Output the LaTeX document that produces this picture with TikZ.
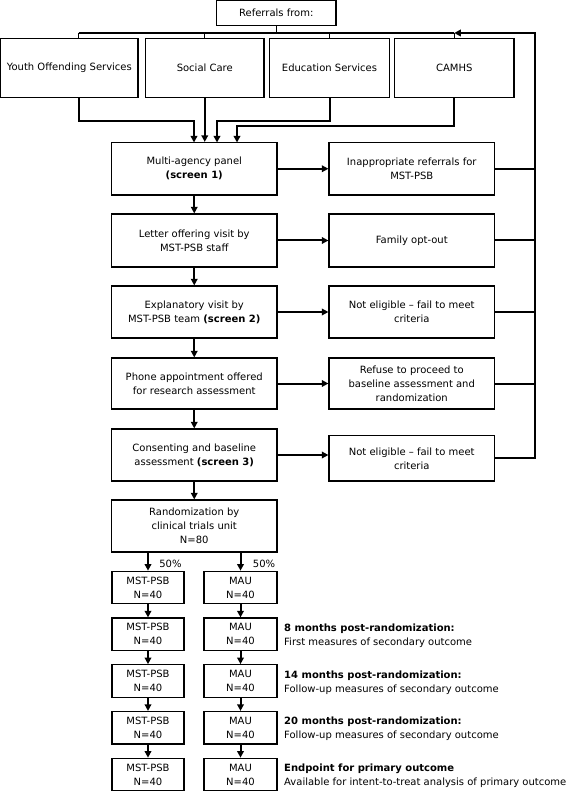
\documentclass[tikz,border=0pt]{standalone}
\usepackage{fontspec}
\setmainfont{DejaVu Sans}
\usetikzlibrary{arrows.meta}
\begin{document}
\begin{tikzpicture}[x=1pt,y=-1pt,
  box/.style={draw, line width=1.2pt, inner sep=0pt, align=center,
    font=\fontsize{10pt}{14pt}\selectfont},
  lbl/.style={inner sep=0pt, font=\fontsize{10pt}{14pt}\selectfont},
  arr/.style={line width=2pt, -{Triangle[length=6.5pt,width=6.5pt]}},
  ln/.style={line width=2pt},
  tree/.style={line width=1.3pt}
]
\useasboundingbox (0,0) rectangle (568,791);
% top row
\node[box, minimum width=119.5pt, minimum height=25pt] (ref) at (276.3,13) {Referrals from:};
\node[box, minimum width=137.4pt, minimum height=59.2pt] (yos) at (69.3,68.1) {Youth Offending Services};
\node[box, minimum width=118.5pt, minimum height=59.2pt] (sc) at (204.75,68.1) {Social Care};
\node[box, minimum width=120pt, minimum height=59.2pt] (ed) at (329.5,68.1) {Education Services};
\node[box, minimum width=119.5pt, minimum height=59.2pt] (camhs) at (454.25,68.1) {CAMHS};
% main column
\node[box, minimum width=165.5pt, minimum height=52.5pt] (panel) at (194.25,168.75) {Multi-agency panel\\\textbf{(screen 1)}};
\node[box, minimum width=165.5pt, minimum height=52.5pt] (inapp) at (411.75,168.75) {Inappropriate referrals for\\MST-PSB};
\node[box, minimum width=165.5pt, minimum height=53pt] (letter) at (194.25,240.5) {Letter offering visit by\\MST-PSB staff};
\node[box, minimum width=165.5pt, minimum height=53pt] (optout) at (411.75,240.5) {Family opt-out};
\node[box, minimum width=165.5pt, minimum height=52pt] (expl) at (194.25,312) {Explanatory visit by\\MST-PSB team \textbf{(screen 2)}};
\node[box, minimum width=165.5pt, minimum height=52pt] (neone) at (411.75,312) {Not eligible – fail to meet\\criteria};
\node[box, minimum width=165.5pt, minimum height=51pt] (phone) at (194.25,383.5) {Phone appointment offered\\for research assessment};
\node[box, minimum width=165.5pt, minimum height=51pt] (refuse) at (411.75,383.5) {Refuse to proceed to\\baseline assessment and\\randomization};
\node[box, minimum width=165.5pt, minimum height=52pt] (consent) at (194.25,455) {Consenting and baseline\\assessment \textbf{(screen 3)}};
\node[box, minimum width=165.5pt, minimum height=45.3pt] (netwo) at (411.75,458.4) {Not eligible – fail to meet\\criteria};
\node[box, minimum width=165.5pt, minimum height=52pt] (rand) at (194.25,526) {Randomization by\\clinical trials unit\\N=80};
% arms
\foreach \i/\y in {1/587.5,2/634.25,3/681,4/727.75,5/774.5}{
  \node[box, minimum width=72pt, minimum height=32.5pt] (mst\i) at (148,\y) {MST-PSB\\N=40};
  \node[box, minimum width=73pt, minimum height=32.5pt] (mau\i) at (240.5,\y) {MAU\\N=40};
}
\node[lbl] (pa) at (170.5,563.5) {50\%};
\node[lbl] (pb) at (264,563.5) {50\%};
% right notes
\node[lbl, anchor=west, align=left] (t2) at (284,635.5) {\textbf{8 months post-randomization:}\\First measures of secondary outcome};
\node[lbl, anchor=west, align=left] (t3) at (284,682.25) {\textbf{14 months post-randomization:}\\Follow-up measures of secondary outcome};
\node[lbl, anchor=west, align=left] (t4) at (284,729) {\textbf{20 months post-randomization:}\\Follow-up measures of secondary outcome};
\node[lbl, anchor=west, align=left] (t5) at (284,775.75) {\textbf{Endpoint for primary outcome}\\Available for intent-to-treat analysis of primary outcome};
% referral tree
\coordinate (ty) at (0,33);
\coordinate (yosx) at (78.5,97.7);
\draw[tree] (ref.south) -- (ref.south |- ty);
\draw[tree] (yosx |- ty) -- (camhs.north |- ty);
\draw[tree] (yosx |- ty) -- (yosx |- yos.north);
\draw[tree] (sc.north |- ty) -- (sc.north);
\draw[tree] (ed.north |- ty) -- (ed.north);
\draw[tree] (camhs.north |- ty) -- (camhs.north);
% into panel
\draw[arr] (yosx) |- (194,121) -- (194,142.5);
\draw[arr] (sc.south) -- (sc.south |- panel.north);
\draw[arr] (ed.south) |- (217,121.5) -- (217,142.5);
\draw[arr] (camhs.south) |- (237,126.5) -- (237,142.5);
% main column arrows
\draw[arr] (panel.south) -- (letter.north);
\draw[arr] (letter.south) -- (expl.north);
\draw[arr] (expl.south) -- (phone.north);
\draw[arr] (phone.south) -- (consent.north);
\draw[arr] (consent.south) -- (rand.north);
\draw[arr] (panel.east) -- (inapp.west);
\draw[arr] (letter.east) -- (optout.west);
\draw[arr] (expl.east) -- (neone.west);
\draw[arr] (phone.east) -- (refuse.west);
\draw[arr] (consent.east) -- (consent.east -| netwo.west);
% randomization split
\draw[arr] (rand.south -| mst1.north) -- (mst1.north);
\draw[arr] (rand.south -| mau1.north) -- (mau1.north);
\foreach \i/\j in {1/2,2/3,3/4,4/5}{
  \draw[arr] (mst\i.south) -- (mst\j.north);
  \draw[arr] (mau\i.south) -- (mau\j.north);
}
% feedback line
\coordinate (fbx) at (535,0);
\draw[ln] (inapp.east) -- (inapp.east -| fbx);
\draw[ln] (optout.east) -- (optout.east -| fbx);
\draw[ln] (neone.east) -- (neone.east -| fbx);
\draw[ln] (refuse.east) -- (refuse.east -| fbx);
\draw[line width=2pt, -{Triangle[length=6.5pt,width=6.5pt]}] (netwo.east) -- (netwo.east -| fbx) -- (fbx |- ty) -- (camhs.north |- ty);
\end{tikzpicture}
\end{document}
